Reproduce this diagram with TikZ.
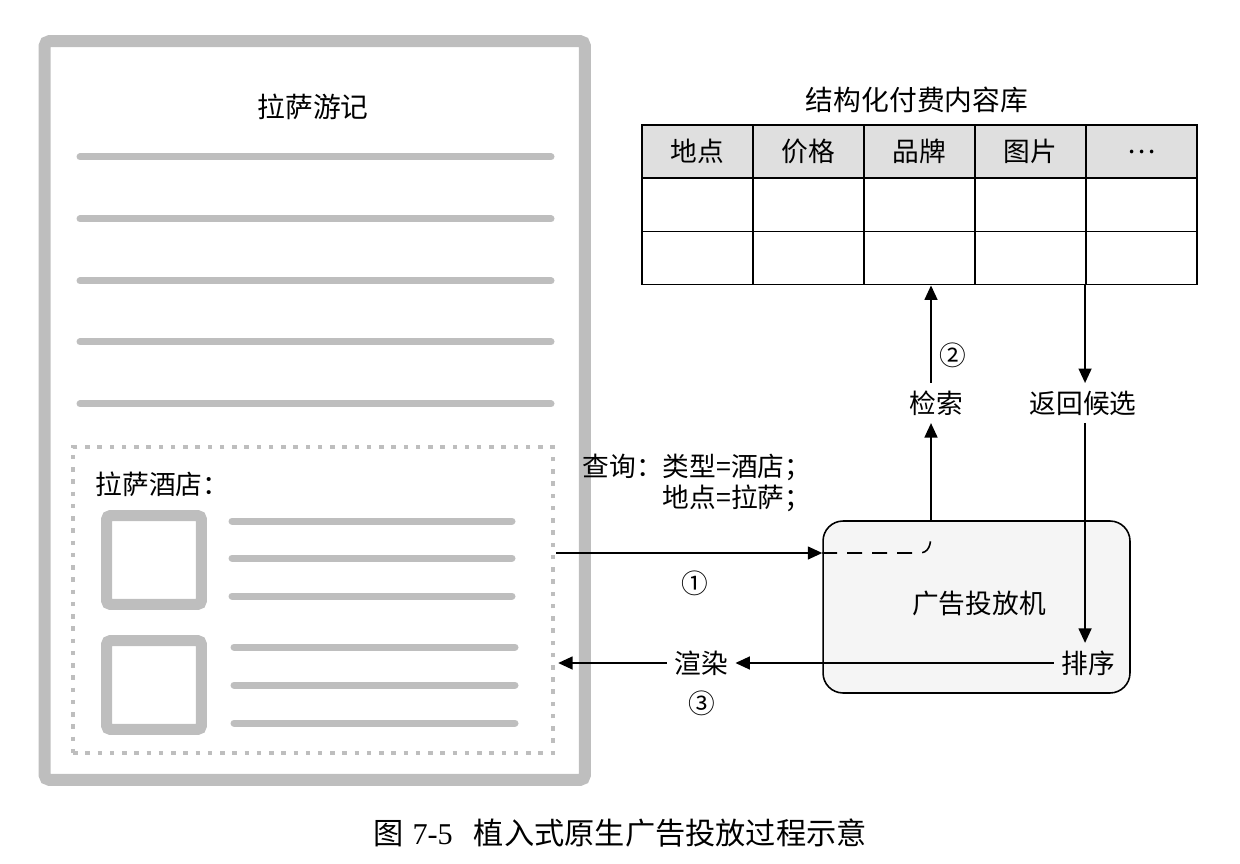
\documentclass[tikz,border=0pt]{standalone}
\usepackage{fontspec}
\setmainfont{Noto Sans CJK SC}
\newfontfamily\latinfont{Liberation Serif}
\usepackage{xcolor}
\usetikzlibrary{arrows.meta, positioning, calc}
\definecolor{pagegray}{HTML}{BEBEBE}

\begin{document}
\begin{tikzpicture}[
    x=0.02cm, y=-0.02cm,
    lbl/.style={font=\fontsize{15.2}{17.5}\selectfont, inner sep=0.42em},
    page/.style={draw=pagegray, line width=0.24cm, rounded corners=0.1cm, minimum width=10.81cm, minimum height=14.78cm},
    txtline/.style={draw=pagegray, line width=0.14cm, line cap=round},
    slot/.style={draw=pagegray, line width=0.09cm, dash pattern=on 0.09cm off 0.155cm, minimum width=9.6cm, minimum height=6.12cm},
    thumb/.style={draw=pagegray, line width=0.22cm, rounded corners=0.08cm, minimum width=1.9cm, minimum height=1.78cm},
    cell/.style={draw, line width=1.1pt, minimum width=2.22cm, minimum height=1.06cm, inner sep=0pt, font=\fontsize{15.2}{17.5}\selectfont},
    adbox/.style={draw, line width=0.9pt, fill=gray!8, rounded corners=0.4cm, minimum width=6.14cm, minimum height=3.44cm},
    arr/.style={-{Triangle[length=2.9mm, width=2.6mm]}, line width=0.9pt}
]
\useasboundingbox (0,0) rectangle (1240,864);

% Travel page
\node[page] (page) at (314.75,410.5) {};
\node[font=\fontsize{15.8}{18}\selectfont] (title) at (313,107) {拉萨游记};
\foreach \y in {157, 219, 281, 342, 404} {
    \draw[txtline] (80,\y) -- (551,\y);
}

% Native ad slot
\node[slot] (slot) at (313,600) {};
\node[lbl, anchor=west] (hotel) at (88,484) {拉萨酒店：};
\node[thumb] (thumb1) at (154,560) {};
\node[thumb] (thumb2) at (154,685) {};
\foreach \y in {521, 558, 596} {
    \draw[txtline] (232,\y) -- (512,\y);
}
\foreach \y in {647, 685, 723} {
    \draw[txtline] (234,\y) -- (515,\y);
}

% Paid content table
\node[font=\fontsize{15.8}{18}\selectfont] (dbtitle) at (917,100) {结构化付费内容库};
\foreach \name [count=\i] in {地点, 价格, 品牌, 图片, …} {
    \node[cell, fill=gray!25] (h\i) at ({697.5+(\i-1)*111},151.5) {\name};
    \node[cell] (a\i) at ({697.5+(\i-1)*111},205) {};
    \node[cell] (b\i) at ({697.5+(\i-1)*111},258) {};
}

% Ad server
\node[adbox] (ad) at (976.5,607) {};
\node[lbl] (adtext) at (979,603) {广告投放机};

% Labels
\node[lbl, align=right, anchor=east] (query) at (819,483) {查询：类型=酒店；\\地点=拉萨；};
\node[lbl] (search) at (936,403) {检索};
\node[lbl] (ret) at (1083,403) {返回候选};
\node[lbl] (sort) at (1088,663) {排序};
\node[lbl] (render) at (701,663) {渲染};
\node[lbl] (n1) at (695,583) {①};
\node[lbl] (n2) at (953,355) {②};
\node[lbl] (n3) at (702,703) {③};

% Flow
\coordinate (q1) at (556,553);
\coordinate (turn) at (931,533);
\draw[arr] (q1) -- (ad.west |- q1);
\draw[line width=0.9pt, dash pattern=on 0.3cm off 0.2cm] (ad.west |- q1) -- (919,553) .. controls (929,553) and (931,545) .. (turn);
\draw[arr] (turn |- ad.north) -- (turn |- search.south);
\draw[arr] (turn |- search.north) -- (turn |- b3.south);
\draw[arr] (b5.south west) -- (b5.south west |- ret.north);
\draw[arr] (b5.south west |- ret.south) -- (b5.south west |- sort.north);
\draw[arr] (sort.west) -- (render.east);
\draw[arr, shorten >=0.06cm] (render.west) -- (slot.east |- render);

% Caption
\node[font=\fontsize{17.2}{20}\selectfont] (caption) at (620,833) {图\hspace{0.3em}{\latinfont 7-5}\hspace{0.7em}植入式原生广告投放过程示意};

\end{tikzpicture}
\end{document}
